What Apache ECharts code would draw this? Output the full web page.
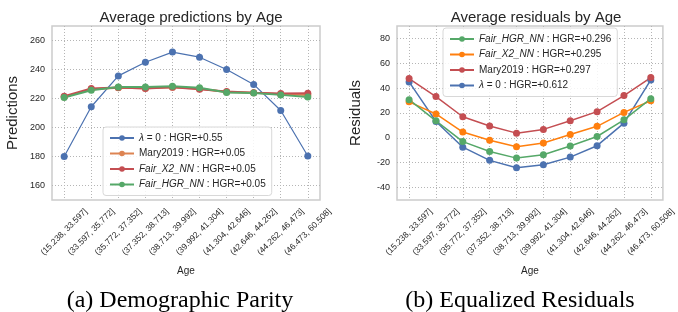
<!DOCTYPE html>
<html>
<head>
<meta charset="utf-8">
<script src="https://cdn.jsdelivr.net/npm/echarts@6/dist/echarts.min.js"></script>
<style>
  html, body { margin: 0; padding: 0; background: #fff; }
  #chart { width: 678px; height: 312px; }
</style>
</head>
<body>
<div id="chart"></div>
<script>
// age buckets (x axis, both panels)
const ageBins = ['(15.238, 33.597]', '(33.597, 35.772]', '(35.772, 37.352]', '(37.352, 38.713]',
  '(38.713, 39.992]', '(39.992, 41.304]', '(41.304, 42.646]', '(42.646, 44.262]',
  '(44.262, 46.473]', '(46.473, 60.508]'];
const binIdx = [0, 1, 2, 3, 4, 5, 6, 7, 8, 9];

// (a) average predictions
const predLambda0 = [180, 214.3, 235.6, 245, 252, 248.5, 240, 229.7, 211.7, 180.3];
const predMary = [221, 226.3, 227.4, 227, 227.8, 226.8, 224.5, 223.9, 223, 222.4];
const predX2 = [221.6, 226.9, 227.6, 226.9, 227.8, 226.4, 224.8, 224, 223.4, 223.7];
const predHGR = [220.7, 225.7, 228, 228, 228.5, 227.4, 224.1, 223.8, 222.5, 221.1];
const predTicks = [160, 180, 200, 220, 240, 260];

// (b) average residuals
const resHGR = [30.7, 13.7, -3, -11, -16.3, -13.6, -6.6, 1.1, 14.5, 31.5];
const resX2 = [29, 19.2, 4.7, -1.9, -7.1, -4.1, 2.7, 9.3, 20.5, 29.9];
const resMary = [47.7, 33.2, 17, 9.6, 3.8, 6.8, 13.7, 21.1, 34, 48.5];
const resLambda0 = [45, 13.2, -7.5, -18.1, -24, -21.6, -15.5, -6.3, 11.8, 46.6];
const resTicks = [-40, -20, 0, 20, 40, 60, 80];

const labels = {
  a_l0: '{i|λ} = 0 : HGR=+0.55',
  a_mary: 'Mary2019 : HGR=+0.05',
  a_x2: '{i|Fair_X2_NN} : HGR=+0.05',
  a_hgr: '{i|Fair_HGR_NN} : HGR=+0.05',
  b_hgr: '{i|Fair_HGR_NN} : HGR=+0.296',
  b_x2: '{i|Fair_X2_NN} : HGR=+0.295',
  b_mary: 'Mary2019 : HGR=+0.297',
  b_l0: '{i|λ} = 0 : HGR=+0.612',
};

const FONT = 'Liberation Sans';
const TXT = '#262626';

const chart = echarts.init(document.getElementById('chart'), null, { renderer: 'canvas' });

function pairs(arr) {
  return arr.map((v, i) => [binIdx[i], v]);
}

function xAxisFor(gridIndex) {
  return {
    type: 'value',
    gridIndex: gridIndex,
    min: -0.45,
    max: 9.45,
    name: 'Age',
    nameLocation: 'middle',
    nameGap: 66,
    nameTextStyle: { fontFamily: FONT, fontSize: 10, color: TXT },
    axisLine: { show: false },
    axisTick: { show: false, customValues: binIdx },
    axisLabel: {
      customValues: binIdx,
      rotate: 45,
      align: 'center',
      verticalAlign: 'middle',
      margin: 32,
      fontFamily: FONT,
      fontSize: 8.5,
      color: TXT,
      formatter: v => ageBins[Math.round(v)],
    },
    splitLine: { show: true, lineStyle: { color: '#b5b5b5', type: [1, 2], width: 1 } },
  };
}

function yAxisFor(gridIndex, name, min, max, ticks, gap) {
  return {
    type: 'value',
    gridIndex: gridIndex,
    min: min,
    max: max,
    name: name,
    nameLocation: 'middle',
    nameGap: gap,
    nameTextStyle: { fontFamily: FONT, fontSize: 15, color: TXT },
    axisLine: { show: false },
    axisTick: { show: false, customValues: ticks },
    axisLabel: { customValues: ticks, margin: 7, fontFamily: FONT, fontSize: 9, color: TXT },
    splitLine: { show: true, lineStyle: { color: '#b5b5b5', type: [1, 2], width: 1 } },
  };
}

function line(name, data, color, xi, width) {
  return {
    name: name,
    type: 'line',
    xAxisIndex: xi,
    yAxisIndex: xi,
    data: pairs(data),
    symbol: 'circle',
    symbolSize: 7,
    showSymbol: true,
    lineStyle: { color: color, width: width || 1.5 },
    itemStyle: { color: color },
    animation: false,
  };
}

function legendFor(left, top, names) {
  return {
    left: left,
    top: top,
    orient: 'vertical',
    data: names,
    itemWidth: 24,
    itemHeight: 7,
    itemGap: 3.5,
    padding: [5, 6, 5, 6],
    backgroundColor: 'rgba(255,255,255,0.85)',
    borderColor: '#d8d8d8',
    borderWidth: 1,
    borderRadius: 3,
    selectedMode: false,
    formatter: n => labels[n],
    textStyle: {
      fontFamily: FONT,
      fontSize: 10,
      color: TXT,
      lineHeight: 12,
      rich: { i: { fontStyle: 'italic', fontFamily: FONT, fontSize: 10, color: TXT } },
    },
  };
}

const option = {
  backgroundColor: '#fff',
  title: [
    { text: 'Average predictions by Age', left: 186, top: 5, textAlign: 'center',
      textStyle: { fontFamily: FONT, fontSize: 15, fontWeight: 'normal', color: TXT } },
    { text: 'Average residuals by Age', left: 531, top: 5, textAlign: 'center',
      textStyle: { fontFamily: FONT, fontSize: 15, fontWeight: 'normal', color: TXT } },
    { text: '(a) Demographic Parity', left: 175, top: 284, textAlign: 'center',
      textStyle: { fontFamily: 'Liberation Serif', fontSize: 24, fontWeight: 'normal', color: '#000' } },
    { text: '(b) Equalized Residuals', left: 515, top: 284, textAlign: 'center',
      textStyle: { fontFamily: 'Liberation Serif', fontSize: 24, fontWeight: 'normal', color: '#000' } },
  ],
  grid: [
    { left: 52, top: 26, width: 268, height: 174, show: true, borderColor: '#cccccc', borderWidth: 1.5, backgroundColor: '#fff' },
    { left: 397, top: 26, width: 268, height: 174, show: true, borderColor: '#cccccc', borderWidth: 1.5, backgroundColor: '#fff' },
  ],
  xAxis: [xAxisFor(0), xAxisFor(1)],
  yAxis: [
    yAxisFor(0, 'Predictions', 150, 270, predTicks, 32),
    yAxisFor(1, 'Residuals', -50, 90, resTicks, 34),
  ],
  legend: [
    legendFor(103, 127, ['a_l0', 'a_mary', 'a_x2', 'a_hgr']),
    legendFor(443, 28, ['b_hgr', 'b_x2', 'b_mary', 'b_l0']),
  ],
  series: [
    line('a_l0', predLambda0, '#4C72B0', 0, 1.2),
    line('a_mary', predMary, '#DD8452', 0, 2),
    line('a_x2', predX2, '#C44E52', 0, 2),
    line('a_hgr', predHGR, '#55A868', 0, 2),
    line('b_l0', resLambda0, '#4C72B0', 1),
    line('b_mary', resMary, '#C44E52', 1),
    line('b_x2', resX2, '#FF7F0E', 1),
    line('b_hgr', resHGR, '#55A868', 1),
  ],
};

chart.setOption(option);
</script>
</body>
</html>
